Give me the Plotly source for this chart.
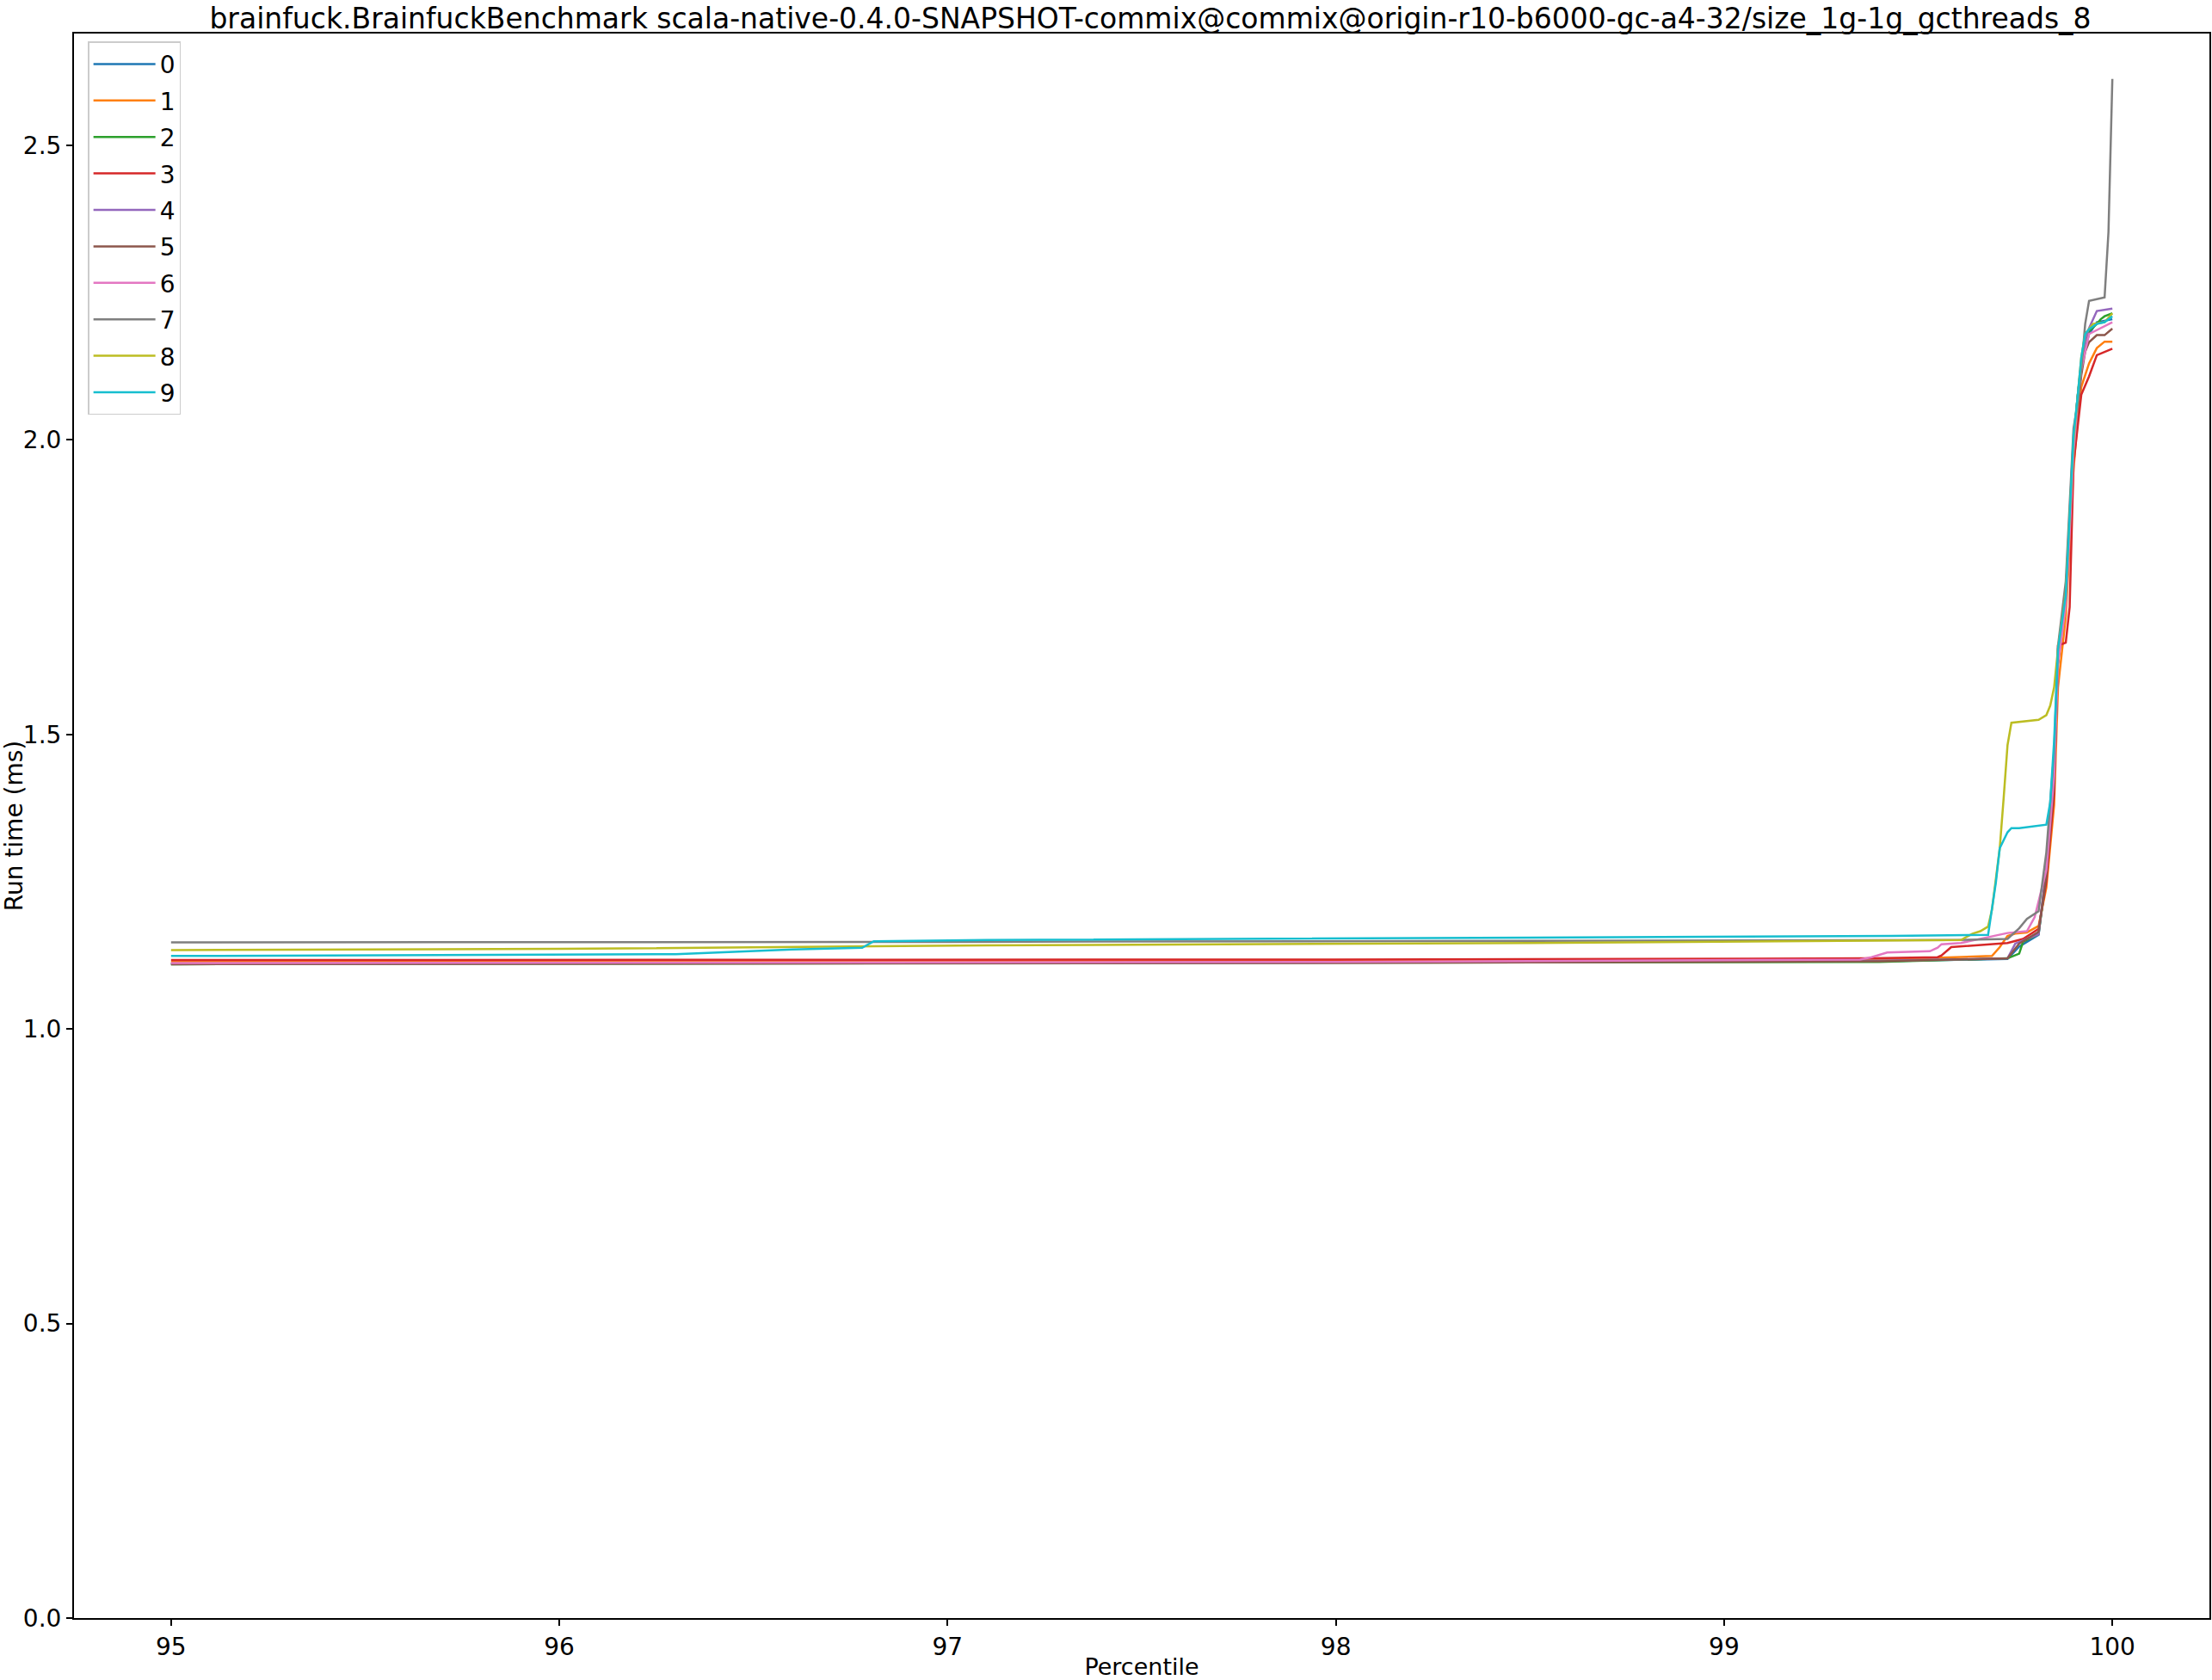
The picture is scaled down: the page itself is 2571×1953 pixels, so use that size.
import plotly.graph_objects as go

title = "brainfuck.BrainfuckBenchmark scala-native-0.4.0-SNAPSHOT-commix@commix@origin-r10-b6000-gc-a4-32/size_1g-1g_gcthreads_8"
names = ["0", "1", "2", "3", "4", "5", "6", "7", "8", "9"]
colors = ["#1f77b4", "#ff7f0e", "#2ca02c", "#d62728", "#9467bd",
          "#8c564b", "#e377c2", "#7f7f7f", "#bcbd22", "#17becf"]

p0 = [95.00, 98.00, 99.40, 99.73, 99.76, 99.81, 99.83, 99.85, 99.86, 99.88, 99.89, 99.90, 99.91, 99.92, 99.94, 99.96, 100.00]
v0 = [1.111, 1.113, 1.115, 1.119, 1.140, 1.160, 1.27, 1.44, 1.63, 1.74, 1.86, 1.99, 2.07, 2.13, 2.18, 2.20, 2.205]

p1 = [95.00, 98.00, 99.40, 99.69, 99.71, 99.73, 99.75, 99.78, 99.81, 99.83, 99.85, 99.86, 99.88, 99.89, 99.90, 99.91, 99.92, 99.94, 99.96, 99.98, 100.00]
v1 = [1.114, 1.116, 1.118, 1.124, 1.139, 1.158, 1.162, 1.164, 1.175, 1.24, 1.38, 1.58, 1.70, 1.82, 1.95, 2.03, 2.09, 2.13, 2.156, 2.167, 2.167]

p2 = [95.00, 98.00, 99.40, 99.73, 99.76, 99.77, 99.81, 99.83, 99.85, 99.86, 99.88, 99.89, 99.90, 99.91, 99.92, 99.93, 99.94, 99.96, 99.97, 99.98, 100.00]
v2 = [1.110, 1.112, 1.114, 1.120, 1.128, 1.148, 1.161, 1.26, 1.43, 1.63, 1.74, 1.86, 1.99, 2.07, 2.13, 2.17, 2.185, 2.197, 2.205, 2.210, 2.215]

p3 = [95.00, 98.00, 99.38, 99.55, 99.56, 99.585, 99.73, 99.77, 99.81, 99.83, 99.85, 99.86, 99.88, 99.89, 99.90, 99.91, 99.92, 99.94, 99.96, 100.00]
v3 = [1.117, 1.118, 1.120, 1.122, 1.125, 1.139, 1.146, 1.153, 1.170, 1.25, 1.40, 1.651, 1.656, 1.716, 1.96, 2.02, 2.077, 2.108, 2.144, 2.155]

p4 = [95.00, 98.00, 99.40, 99.73, 99.75, 99.78, 99.81, 99.83, 99.85, 99.86, 99.88, 99.89, 99.90, 99.91, 99.92, 99.93, 99.94, 99.96, 100.00]
v4 = [1.111, 1.113, 1.116, 1.120, 1.145, 1.153, 1.161, 1.27, 1.44, 1.63, 1.74, 1.86, 1.99, 2.07, 2.13, 2.17, 2.19, 2.219, 2.223]

p5 = [95.00, 98.00, 99.40, 99.73, 99.76, 99.80, 99.81, 99.83, 99.85, 99.86, 99.88, 99.89, 99.90, 99.91, 99.92, 99.93, 99.94, 99.96, 99.98, 100.00]
v5 = [1.110, 1.112, 1.115, 1.120, 1.145, 1.161, 1.165, 1.26, 1.42, 1.62, 1.73, 1.85, 1.98, 2.05, 2.11, 2.15, 2.166, 2.178, 2.178, 2.189]

p6 = [95.00, 98.00, 99.35, 99.38, 99.42, 99.53, 99.55, 99.56, 99.61, 99.70, 99.73, 99.78, 99.80, 99.83, 99.85, 99.86, 99.88, 99.89, 99.90, 99.91, 99.92, 99.94, 99.97, 100.00]
v6 = [1.112, 1.114, 1.118, 1.122, 1.130, 1.132, 1.138, 1.144, 1.146, 1.158, 1.163, 1.166, 1.19, 1.27, 1.43, 1.62, 1.72, 1.84, 1.98, 2.06, 2.12, 2.18, 2.19, 2.200]

p7 = [95.00, 97.00, 99.60, 99.73, 99.76, 99.78, 99.81, 99.83, 99.85, 99.86, 99.88, 99.89, 99.90, 99.91, 99.92, 99.93, 99.94, 99.98, 99.99, 100.00]
v7 = [1.147, 1.148, 1.151, 1.153, 1.171, 1.187, 1.200, 1.30, 1.47, 1.65, 1.76, 1.89, 2.02, 2.06, 2.12, 2.197, 2.236, 2.242, 2.353, 2.613]

p8 = [95.00, 96.00, 97.10, 98.50, 99.61, 99.64, 99.66, 99.68, 99.69, 99.71, 99.72, 99.73, 99.74, 99.81, 99.83, 99.84, 99.85, 99.86, 99.88, 99.89, 99.90, 99.91, 99.92, 99.93, 99.95, 99.98, 100.00]
v8 = [1.134, 1.136, 1.142, 1.146, 1.151, 1.162, 1.166, 1.174, 1.203, 1.307, 1.392, 1.482, 1.520, 1.525, 1.533, 1.549, 1.580, 1.645, 1.74, 1.87, 2.00, 2.07, 2.14, 2.18, 2.197, 2.200, 2.215]

p9 = [95.00, 96.30, 96.45, 96.60, 96.78, 96.81, 97.10, 98.50, 99.43, 99.68, 99.70, 99.71, 99.73, 99.74, 99.76, 99.83, 99.84, 99.85, 99.86, 99.88, 99.89, 99.90, 99.91, 99.92, 99.93, 99.94, 99.96, 99.98, 100.00]
v9 = [1.124, 1.127, 1.131, 1.135, 1.138, 1.149, 1.151, 1.155, 1.158, 1.160, 1.249, 1.307, 1.334, 1.341, 1.341, 1.347, 1.385, 1.489, 1.645, 1.736, 1.879, 2.008, 2.07, 2.14, 2.18, 2.188, 2.197, 2.200, 2.210]

xs = [p0, p1, p2, p3, p4, p5, p6, p7, p8, p9]
ys = [v0, v1, v2, v3, v4, v5, v6, v7, v8, v9]

FONT = "DejaVu Sans"
fig = go.Figure()
for n, c, x, y in zip(names, colors, xs, ys):
    fig.add_trace(go.Scatter(x=x, y=y, mode="lines", name=n, legendgroup=n,
                             line=dict(color=c, width=2.5)))

fig.update_layout(
    width=2571, height=1953,
    margin=dict(l=86, r=3, t=39, b=72),
    paper_bgcolor="white", plot_bgcolor="white",
    font=dict(family=FONT, size=28, color="black"),
    title=dict(text=title, x=1337 / 2571, xanchor="center",
               y=1 - 21 / 1953, yanchor="middle", font=dict(size=33)),
    showlegend=True,
    legend=dict(x=0.0065, y=0.995, xanchor="left", yanchor="top",
                bordercolor="#cccccc", borderwidth=1.5, bgcolor="white",
                font=dict(size=28), tracegroupgap=3, itemwidth=72),
)
fig.update_xaxes(range=[94.75, 100.25], tickvals=[95, 96, 97, 98, 99, 100],
                 ticks="outside", ticklen=7, tickwidth=1.5, tickcolor="black",
                 showline=True, linecolor="black", linewidth=2, mirror=True,
                 showgrid=False, zeroline=False, automargin=False,
                 title=dict(text="Percentile", font=dict(size=27)))
fig.update_yaxes(range=[0, 2.69], tickvals=[0, 0.5, 1.0, 1.5, 2.0, 2.5],
                 tickformat=".1f",
                 ticks="outside", ticklen=7, tickwidth=1.5, tickcolor="black",
                 showline=True, linecolor="black", linewidth=2, mirror=True,
                 showgrid=False, zeroline=False, automargin=False,
                 title=dict(text="Run time (ms)", font=dict(size=28)))
fig.write_html("out.html")
